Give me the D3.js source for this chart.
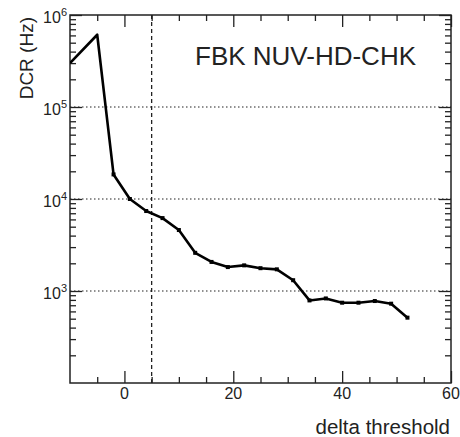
<!DOCTYPE html>
<html>
<head>
<meta charset="utf-8">
<script src="https://cdn.jsdelivr.net/npm/d3@7"></script>
<style>
  body { margin: 0; background: #fff; }
  svg { display: block; font-family: "Liberation Sans", Arial, sans-serif; }
</style>
</head>
<body>
<div id="chart"></div>
<script>
// data
var threshold = [-10, -5, -2, 1, 4, 7, 10, 13, 16, 19, 22, 25, 28, 31, 34, 37, 40, 43, 46, 49, 52];
var dcr = [3.0e5, 6.1e5, 1.85e4, 1.0e4, 7.4e3, 6.2e3, 4.6e3, 2.6e3, 2.07e3, 1.82e3, 1.9e3,
           1.77e3, 1.72e3, 1.31e3, 790, 830, 746, 746, 778, 728, 513];
var xMajor = [0, 20, 40, 60];
var xMinor = d3.range(-5, 60, 5).filter(function(v){ return v % 20 != 0; });
var yMajor = [1e3, 1e4, 1e5];
var yLabels = [1e3, 1e4, 1e5, 1e6];
var cutLine = 5;
var title = "FBK NUV-HD-CHK";

////////////////////////////////////////////////////////////
//////////////////////// Setup /////////////////////////////
////////////////////////////////////////////////////////////
var W = 460, H = 437;
var pL = 70, pR = 451, pT = 15, pB = 383;

var svg = d3.select("#chart").append("svg")
  .attr("width", W).attr("height", H);

var x = d3.scaleLinear().domain([-10, 60]).range([pL, pR]);
var y = d3.scaleLog().domain([100, 1e6]).range([pB, pT]);

var yMinor = y.ticks().filter(function(v){
  var l = Math.log10(v); return Math.abs(l - Math.round(l)) > 1e-6;
});

// grid
svg.append("g").selectAll("line")
  .data(yMajor).enter().append("line")
  .attr("x1", pL).attr("x2", pR)
  .attr("y1", function(d){ return y(d); }).attr("y2", function(d){ return y(d); })
  .attr("stroke", "#222").attr("stroke-width", 1.2)
  .attr("stroke-dasharray", "1.5,2.5");

svg.append("line")
  .attr("x1", x(cutLine)).attr("x2", x(cutLine))
  .attr("y1", pT).attr("y2", pB)
  .attr("stroke", "#222").attr("stroke-width", 1.3)
  .attr("stroke-dasharray", "4,3");

////////////////////////////////////////////////////////////
//////////////////////// Axes //////////////////////////////
////////////////////////////////////////////////////////////
function tickAxis(axis, pos, vals, size) {
  var g = svg.append("g").attr("transform", pos)
    .call(axis.tickValues(vals).tickSize(size).tickSizeOuter(0).tickFormat(""));
  g.select(".domain").remove();
  g.selectAll("line").attr("stroke", "#222").attr("stroke-width", 1.3);
  return g;
}

tickAxis(d3.axisBottom(x), "translate(0," + pB + ")", xMinor, -6);
tickAxis(d3.axisTop(x), "translate(0," + pT + ")", xMinor, -6);
tickAxis(d3.axisBottom(x), "translate(0," + pB + ")", xMajor, -12);
tickAxis(d3.axisTop(x), "translate(0," + pT + ")", xMajor, -12);
tickAxis(d3.axisLeft(y), "translate(" + pL + ",0)", yMinor, -6);
tickAxis(d3.axisRight(y), "translate(" + pR + ",0)", yMinor, -6);
tickAxis(d3.axisLeft(y), "translate(" + pL + ",0)", yLabels, -12);
tickAxis(d3.axisRight(y), "translate(" + pR + ",0)", yLabels, -12);

svg.append("rect")
  .attr("x", pL).attr("y", pT)
  .attr("width", pR - pL).attr("height", pB - pT)
  .attr("fill", "none").attr("stroke", "#222").attr("stroke-width", 1.5);

// x labels
svg.append("g").selectAll("text")
  .data(xMajor).enter().append("text")
  .attr("x", function(d){ return x(d); })
  .attr("y", pB + 16)
  .attr("text-anchor", "middle")
  .attr("font-size", 16).attr("fill", "#222")
  .text(function(d){ return d; });

// y labels 10^n
var yl = svg.append("g").selectAll("text")
  .data(yLabels).enter().append("text")
  .attr("x", pL - 3)
  .attr("y", function(d){ return y(d) + 8; })
  .attr("text-anchor", "end")
  .attr("font-size", 16).attr("fill", "#222");
yl.append("tspan").text("10");
yl.append("tspan")
  .attr("font-size", 11).attr("dy", -7)
  .text(function(d){ return Math.round(Math.log10(d)); });

svg.append("text")
  .attr("transform", "translate(33,17) rotate(-90)")
  .attr("text-anchor", "end")
  .attr("font-size", 19).attr("fill", "#222")
  .text("DCR (Hz)");

svg.append("text")
  .attr("x", 450).attr("y", 434)
  .attr("text-anchor", "end")
  .attr("font-size", 20.5).attr("fill", "#222")
  .text("delta threshold");

svg.append("text")
  .attr("x", 195).attr("y", 65)
  .attr("font-size", 26).attr("fill", "#222")
  .text(title);

////////////////////////////////////////////////////////////
//////////////////////// Curve /////////////////////////////
////////////////////////////////////////////////////////////
var pts = threshold.map(function(t, i){ return {t: t, v: dcr[i]}; });

svg.append("clipPath").attr("id", "frame")
  .append("rect").attr("x", pL).attr("y", pT)
  .attr("width", pR - pL).attr("height", pB - pT);

var plot = svg.append("g").attr("clip-path", "url(#frame)");

plot.append("path")
  .datum(pts)
  .attr("fill", "none")
  .attr("stroke", "#000")
  .attr("stroke-width", 2.6)
  .attr("stroke-linejoin", "round")
  .attr("d", d3.line()
    .x(function(d){ return x(d.t); })
    .y(function(d){ return y(d.v); }));

plot.selectAll(".pt")
  .data(pts.slice(2)).enter().append("rect")
  .attr("class", "pt")
  .attr("x", function(d){ return x(d.t) - 2; })
  .attr("y", function(d){ return y(d.v) - 2; })
  .attr("width", 4).attr("height", 4)
  .attr("fill", "#000");
</script>
</body>
</html>
